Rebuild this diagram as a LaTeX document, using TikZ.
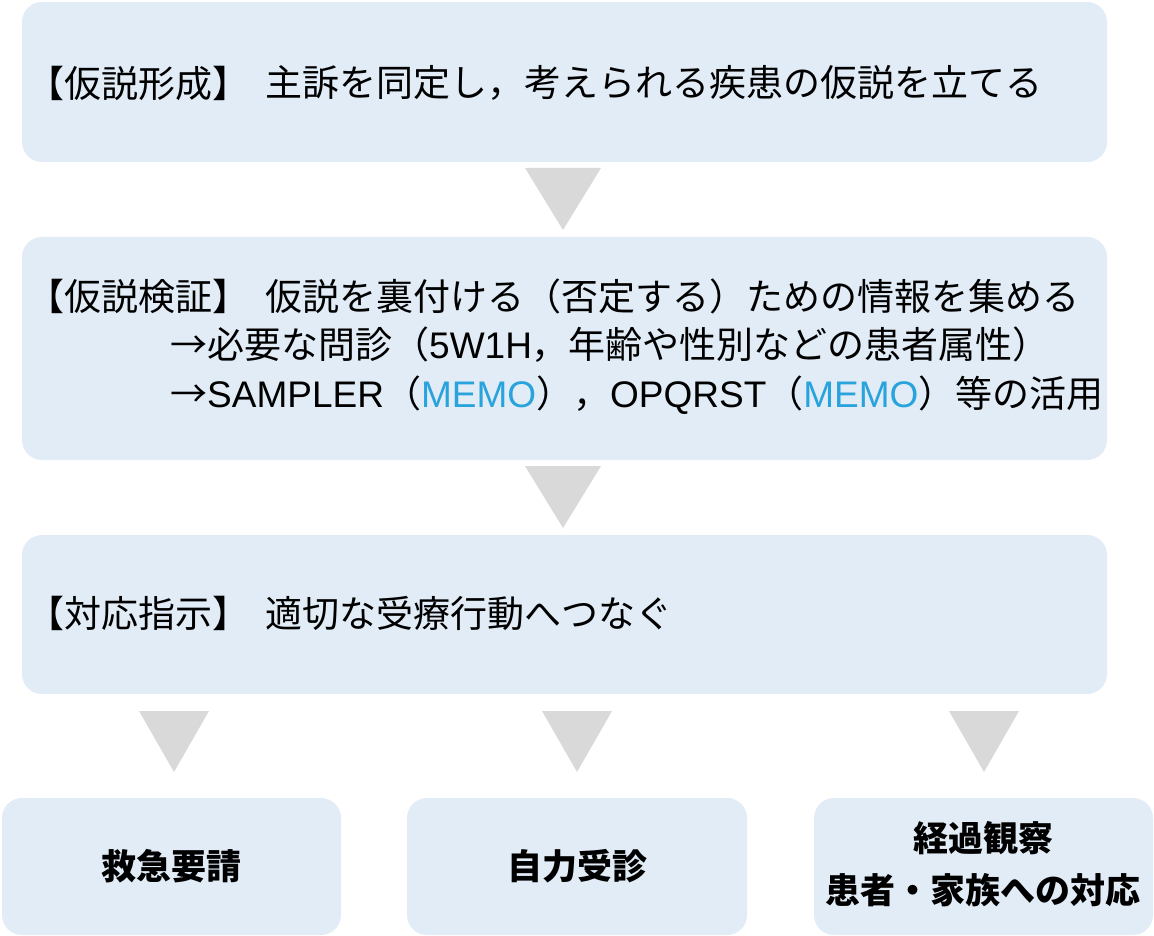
\documentclass[tikz,border=0pt]{standalone}
\usepackage{fontspec}
\setmainfont{Noto Sans CJK JP}
\newfontfamily\latinf{Liberation Sans}
\definecolor{boxc}{HTML}{E1ECF6}
\definecolor{tric}{HTML}{D9D9D9}
\definecolor{memo}{HTML}{29A3DC}
\tikzset{box/.style={fill=boxc,rounded corners=20pt},
 tri/.style={fill=tric},
 txt/.style={anchor=west,inner sep=0pt,font=\fontsize{37}{40}\selectfont},
 btxt/.style={align=center,inner sep=0pt,font=\fontsize{35}{52}\selectfont\bfseries}}
\newcommand{\mm}{{\latinf\color{memo}MEMO}}
\begin{document}
\begin{tikzpicture}[x=1pt,y=-1pt]
\useasboundingbox (0,0) rectangle (1154,936);
\fill[box] (22,2) rectangle (1107,162);
\fill[box] (22,237) rectangle (1107,460);
\fill[box] (22,535) rectangle (1107,694);
\fill[box] (2,798) rectangle (341,935);
\fill[box] (407,798) rectangle (747,935);
\fill[box] (814,798) rectangle (1153,935);
\foreach \c/\t in {563/168,563/466}{\fill[tri] (\c-38,\t) -- (\c+38,\t) -- (\c,\t+62) -- cycle;}
\foreach \c in {174,577,984}{\fill[tri] (\c-35,711) -- (\c+35,711) -- (\c,772) -- cycle;}
\node[txt] (h1) at (27,83) {【仮説形成】};
\node[txt] (t1) at (265,83) {主訴を同定し，考えられる疾患の仮説を立てる};
\node[txt] (h2) at (27,296) {【仮説検証】};
\node[txt] (t2) at (265,296) {仮説を裏付ける（否定する）ための情報を集める};
\node[txt] (t3) at (170,345) {→必要な問診（{\latinf 5W1H}，年齢や性別などの患者属性）};
\node[txt] (t4) at (170,395) {→{\latinf SAMPLER}（\mm），{\latinf OPQRST}（\mm）等の活用};
\node[txt] (h3) at (27,613) {【対応指示】};
\node[txt] (t5) at (265,613) {適切な受療行動へつなぐ};
\node[btxt] (b1) at (171,866) {救急要請};
\node[btxt] (b2) at (577,866) {自力受診};
\node[btxt] (b3) at (983,864) {経過観察\\患者・家族への対応};
\end{tikzpicture}
\end{document}
